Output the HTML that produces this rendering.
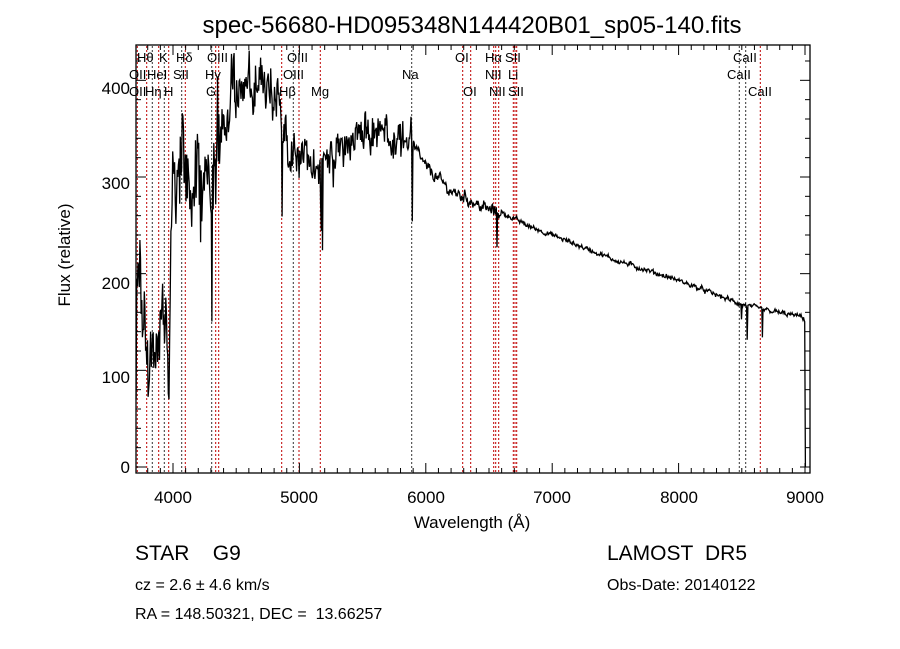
<!DOCTYPE html>
<html><head><meta charset="utf-8"><style>
body{margin:0;background:#fff;}
svg{display:block;font-family:"Liberation Sans",sans-serif;}
</style></head><body>
<svg id="s" width="900" height="649" viewBox="0 0 900 649" xmlns="http://www.w3.org/2000/svg">
<rect width="900" height="649" fill="#fff"/>
<text x="472" y="33" font-size="24" text-anchor="middle">spec-56680-HD095348N144420B01_sp05-140.fits</text>
<g id="lines"></g>
<path id="spec" fill="none" stroke="#000" stroke-width="1.3"/>
<rect x="136" y="45" width="674" height="428" fill="none" stroke="#000" stroke-width="1.3"/>
<g id="ticks" stroke="#000" stroke-width="1"></g>
<g font-size="17" text-anchor="middle">
<text x="173" y="503">4000</text><text x="299" y="503">5000</text><text x="426" y="503">6000</text>
<text x="552" y="503">7000</text><text x="679" y="503">8000</text><text x="805" y="503">9000</text>
</g>
<g font-size="17" text-anchor="end">
<text x="130" y="473">0</text><text x="130" y="383">100</text><text x="130" y="289">200</text>
<text x="130" y="189">300</text><text x="130" y="94">400</text>
</g>
<text x="472" y="528" font-size="17" text-anchor="middle">Wavelength (Å)</text>
<text transform="translate(70,255) rotate(-90)" font-size="17" text-anchor="middle">Flux (relative)</text>
<g font-size="13">
<text x="137" y="62">Hθ</text><text x="159" y="62">K</text><text x="176" y="62">Hδ</text><text x="207" y="62">OIII</text><text x="287" y="62">OIII</text><text x="455" y="62">OI</text><text x="485" y="62">Hα</text><text x="505" y="62">SII</text><text x="733" y="62">CaII</text>
<text x="129" y="79">OII</text><text x="147" y="79">HeI</text><text x="173" y="79">SII</text><text x="205" y="79">Hγ</text><text x="283" y="79">OIII</text><text x="402" y="79">Na</text><text x="485" y="79">NII</text><text x="508" y="79">Li</text><text x="727" y="79">CaII</text>
<text x="129" y="96">OII</text><text x="145" y="96">Hη</text><text x="164" y="96">H</text><text x="206" y="96">G</text><text x="279" y="96">Hβ</text><text x="311" y="96">Mg</text><text x="463" y="96">OI</text><text x="489" y="96">NII</text><text x="508" y="96">SII</text><text x="748" y="96">CaII</text>
</g>
<text x="135" y="560" font-size="21">STAR&#160;&#160;&#160;&#160;G9</text>
<text x="607" y="560" font-size="21">LAMOST&#160;&#160;DR5</text>
<text x="135" y="590" font-size="16">cz = 2.6 ± 4.6 km/s</text>
<text x="607" y="590" font-size="16">Obs-Date: 20140122</text>
<text x="135" y="619" font-size="16">RA = 148.50321, DEC =&#160;&#160;13.66257</text>
</svg>
<script>
function X(l){return 173+(l-4000)*0.1264;}
function Y(v){return 467-v*0.9667;}
var t=document.getElementById('ticks'),h='';
for(var l=3800;l<=9000;l+=100){var x=X(l),L=(l%1000==0)?10:5;h+='<line x1="'+x+'" x2="'+x+'" y1="473" y2="'+(473-L)+'"/><line x1="'+x+'" x2="'+x+'" y1="45" y2="'+(45+L)+'"/>';}
for(var v=0;v<=420;v+=20){var y=Y(v),L=(v%100==0)?10:5;h+='<line x1="136" x2="'+(136+L)+'" y1="'+y+'" y2="'+y+'"/><line x1="810" x2="'+(810-L)+'" y1="'+y+'" y2="'+y+'"/>';}
t.innerHTML=h;
var red=[137.3,146.7,158.7,168.7,185.3,215.7,218.7,281.7,299,320.3,462.7,470.7,493.7,495.7,498.7,513.3,515,516.7,760.3];
var blk=[152.3,164.3,181.7,211.7,293.3,411.7,739.3,745.7];
h='';
red.forEach(function(x){h+='<line x1="'+x+'" x2="'+x+'" y1="46" y2="472" stroke="#c00000" stroke-width="1" stroke-dasharray="2,2"/>';});
blk.forEach(function(x){h+='<line x1="'+x+'" x2="'+x+'" y1="46" y2="472" stroke="#333" stroke-width="1" stroke-dasharray="2,2"/>';});
document.getElementById('lines').innerHTML=h;
var A=[[3708,10],[3712,150],[3730,200],[3750,190],[3780,130],[3820,110],[3860,130],[3900,150],[3940,160],[3965,110],[3985,250],[4000,300],[4050,315],[4100,300],[4150,300],[4200,290],[4250,280],[4300,300],[4340,350],[4400,355],[4450,380],[4500,400],[4550,395],[4650,395],[4750,385],[4850,370],[4900,345],[5000,330],[5100,315],[5160,310],[5200,325],[5300,335],[5400,335],[5500,340],[5600,345],[5700,345],[5850,342],[5900,333],[6000,310],[6100,298],[6200,285],[6300,280],[6400,272],[6500,266],[6600,263],[6700,257],[6800,250],[7000,240],[7500,214],[8000,193],[8500,168],[8700,162],[8990,155],[9000,150]];
function cont(l){for(var i=0;i<A.length-1;i++){if(l<=A[i+1][0]){var f=(l-A[i][0])/(A[i+1][0]-A[i][0]);return A[i][1]+f*(A[i+1][1]-A[i][1]);}}return 150;}
var seed=12345;function r(){seed=(seed*1103515245+12345)%2147483648;return seed/2147483648-0.5;}
var dips=[[3934,35],[3969,30],[4102,40],[4227,50],[4308,90],[4340,60],[4383,40],[4861,70],[5168,60],[5173,90],[5184,90],[5270,40],[5893,100],[6563,35],[8498,15],[8542,35],[8662,30]];
var d='',walk=0;
for(var l=3708;l<=9005;l+=5){
  var c=cont(l),amp;
  if(l<4000)amp=70;else if(l<4500)amp=75;else if(l<5000)amp=45;else if(l<5900)amp=32;else if(l<6600)amp=10;else amp=4;
  walk=walk*0.6+r()*0.8;
  var v=c+amp*(walk+0.7*r());
  if(l<5900&&r()>0.4)v-=amp*0.8*Math.abs(r());
  dips.forEach(function(p){var w=(p[0]>8000)?4:3;if(Math.abs(l-p[0])<w)v-=p[1];});
  if(l<4000)v=Math.max(v,70);
  if(l>=9002)v=0;
  d+=(d?'L':'M')+X(l).toFixed(1)+' '+Math.max(46,Math.min(472,Y(v))).toFixed(1);
}
document.getElementById('spec').setAttribute('d',d);
</script>
</body></html>
